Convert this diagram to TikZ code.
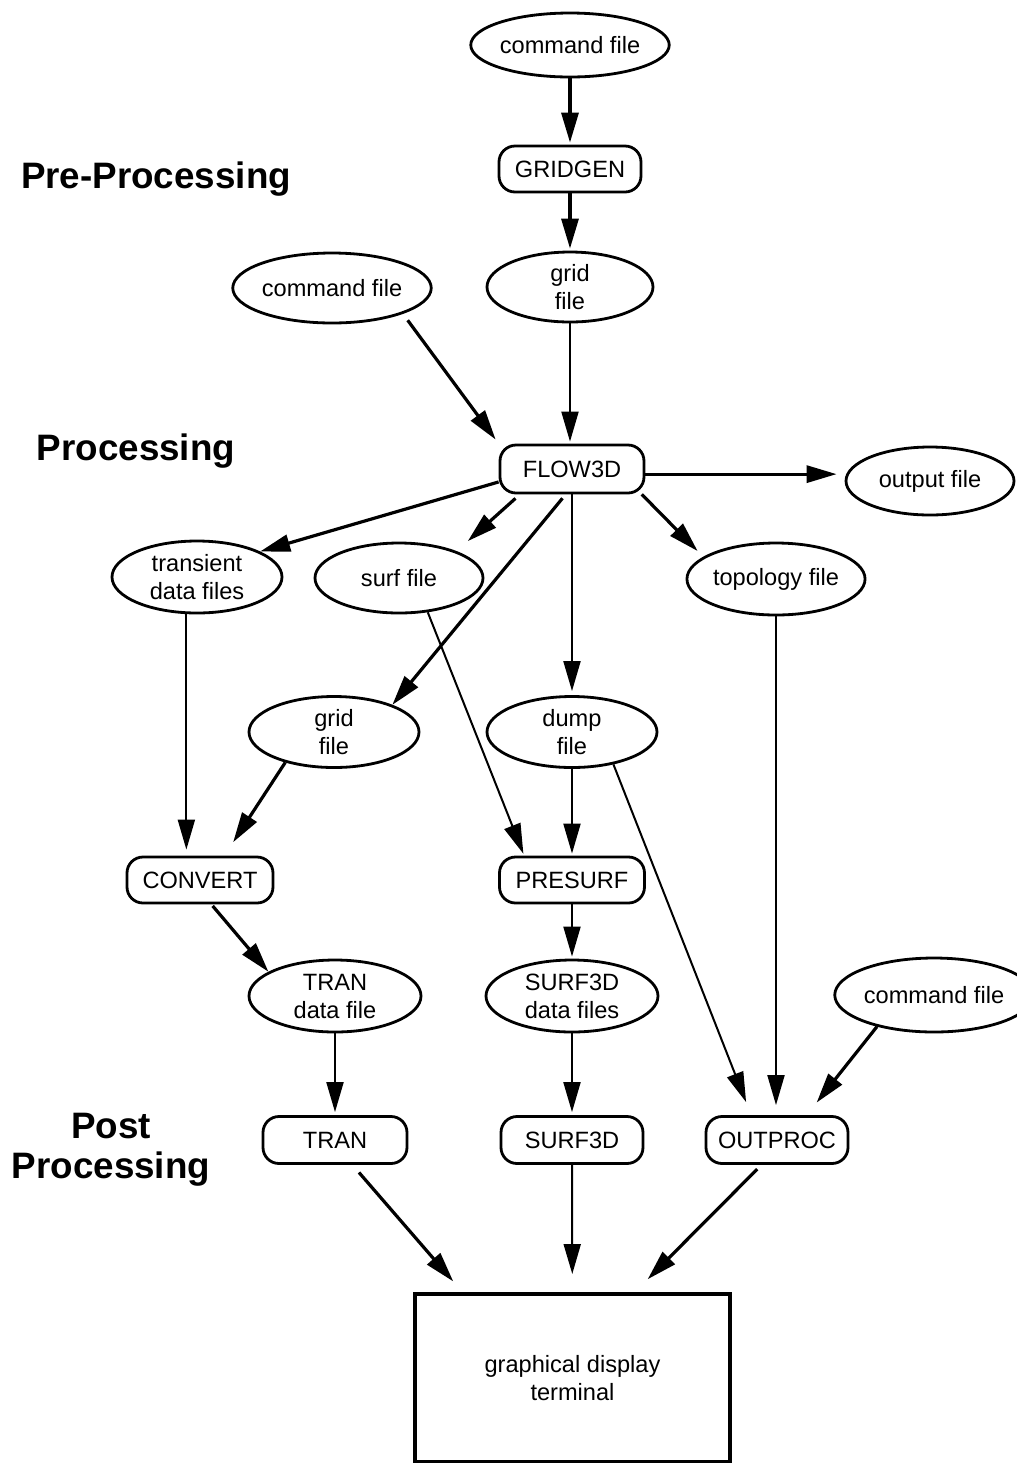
\documentclass[tikz,border=0pt]{standalone}
\usepackage{fontspec}
\setmainfont{Liberation Sans}
\usepackage{tikz}
\usetikzlibrary{shapes.geometric}
\usetikzlibrary{arrows.meta}

\begin{document}
\begin{tikzpicture}[x=0.5pt, y=-0.5pt, >={Triangle[length=15pt,width=8.5pt]},
    file/.style = {ellipse, draw, line width=1.4pt, inner sep=0pt, align=center, font=\fontsize{11.8}{14}\selectfont},
    prog/.style = {rectangle, draw, line width=1.4pt, rounded corners=8pt, inner sep=0pt, minimum width=71pt, minimum height=23pt, font=\fontsize{11.8}{14}\selectfont},
    stage/.style = {align=center, font=\bfseries\fontsize{18.4}{20}\selectfont},
    flow/.style = {->, line width=1.6pt},
    link/.style = {->, line width=1pt}]
        \useasboundingbox (0,0) rectangle (1017,1463);
        % stage labels
        \node[stage] (l1) at (156,179) {Pre-Processing};
        \node[stage] (l2) at (136,451) {Processing};
        \node[stage] (l3) at (111,1150) {Post\\Processing};
        % files and programs
        \node[file, minimum width=83pt, minimum height=32pt] (1) at (570,45) {command file};
        \node[prog] (2) at (570,169) {GRIDGEN};
        \node[file, minimum width=83pt, minimum height=35pt] (3) at (570,287) {grid\\file};
        \node[file, minimum width=85pt, minimum height=35pt] (4) at (332,288) {command file};
        \node[prog, minimum width=72pt, minimum height=24pt] (5) at (572,469) {FLOW3D};
        \node[file, minimum width=84pt, minimum height=34pt] (6) at (930,481) {output file};
        \node[file, minimum width=85pt, minimum height=36pt] (7) at (197,577) {transient\\data files};
        \node[file, minimum width=84pt, minimum height=35pt] (8) at (399,578) {surf file};
        \node[file, minimum width=86pt, minimum height=36pt] (9) at (776,579) {topology file};
        \node[file, minimum width=85pt, minimum height=35.5pt] (10) at (334,732) {grid\\file};
        \node[file, minimum width=85pt, minimum height=35.5pt] (11) at (572,732) {dump\\file};
        \node[prog, minimum width=73pt] (12) at (200,880) {CONVERT};
        \node[prog, minimum width=72.5pt] (13) at (572,880) {PRESURF};
        \node[file, minimum width=86pt, minimum height=36pt] (14) at (335,996) {TRAN\\data file};
        \node[file, minimum width=86pt, minimum height=36pt] (15) at (572,996) {SURF3D\\data files};
        \node[file, minimum width=82pt, minimum height=37pt] (16) at (934,995) {command file};
        \node[prog, minimum width=72pt, minimum height=23.5pt] (17) at (335,1140) {TRAN};
        \node[prog, minimum height=23.5pt] (18) at (572,1140) {SURF3D};
        \node[prog, minimum height=23.5pt] (19) at (777,1140) {OUTPROC};
        \node[rectangle, draw, line width=2pt, minimum width=157.5pt, minimum height=84pt, align=center, font=\fontsize{11.8}{14}\selectfont] (20) at (572.5,1378) {graphical display\\terminal};
        % pre-processing
        \draw[flow, shorten >=1pt] (1) -- (2);
        \draw[flow, shorten >=1pt] (2) -- (3);
        \draw[link, shorten >=1pt] (3.south) -- (3.south |- 5.north);
        \draw[flow, shorten <=4pt, shorten >=2.5pt] (4.-20) -- (5.north west);
        % processing
        \draw[flow, shorten >=4pt] (5.-4) -- (5.-4 -| 6.west);
        \draw[flow] (5.190) -- (7.22);
        \draw[flow, shorten <=3pt, shorten >=7.5pt] (5.206) -- (8.25);
        \draw[flow, shorten <=2.5pt] (5.256) -- (10.25);
        \draw[link, shorten >=2pt] (5) -- (11);
        \draw[flow, shorten >=4pt] (5.-20) -- (9.163);
        \draw[link, shorten >=3pt] (7.254) -- (7.254 |- 12.north);
        \draw[link, shorten >=1pt] (8.310) -- (13.153);
        \draw[flow, shorten >=8pt] (10.212) -- (12.45);
        \draw[link, shorten >=1pt] (11) -- (13);
        \draw[link, shorten >=7pt] (11.322) -- (19.136);
        \draw[link, shorten >=5pt] (9.south) -- (9.south |- 19.north);
        \draw[flow, shorten >=8pt] (16.209) -- (19.40);
        \draw[flow, shorten <=1pt] (12.-65) -- (14.160);
        \draw[link, shorten >=1pt] (13) -- (15);
        % post processing
        \draw[link, shorten >=1.5pt] (14) -- (17);
        \draw[link, shorten >=1.5pt] (15) -- (18);
        \draw[flow, shorten <=5pt, shorten >=7pt] (17.-55) -- (20.142);
        \draw[link, shorten >=9pt] (18) -- (20);
        \draw[flow, shorten <=3pt, shorten >=9pt] (19.238) -- (20.54);
    \end{tikzpicture}
\end{document}
